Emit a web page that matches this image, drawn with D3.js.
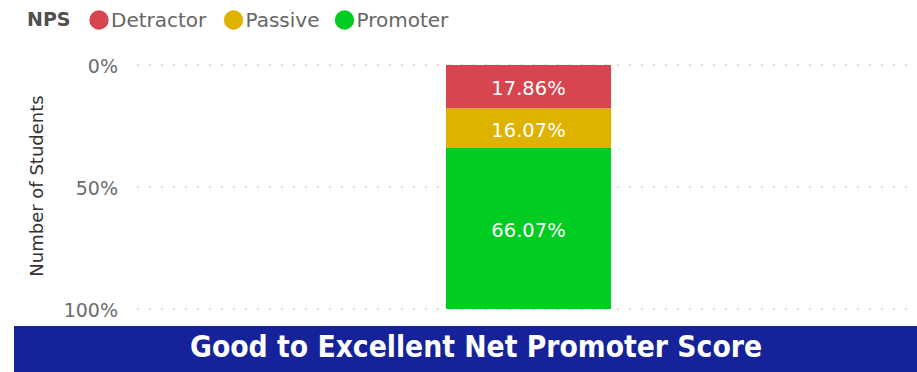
<!DOCTYPE html>
<html>
<head>
<meta charset="utf-8">
<script src="https://cdn.jsdelivr.net/npm/d3@7"></script>
<style>
  html, body { margin: 0; padding: 0; background: #fff; }
  svg { display: block; }
</style>
</head>
<body>
<svg id="chart" width="917" height="372"></svg>
<script>
// NPS breakdown for a single group (shares of students)
const categories = ["Detractor", "Passive", "Promoter"];
const shares = [0.1786, 0.1607, 0.6607];
const colors = ["#D7454F", "#DDB300", "#00CC22"];
const groups = ["All Students"];
const tickValues = [0, 0.5, 1];
const title = "Good to Excellent Net Promoter Score";

const FONT = "'DejaVu Sans', 'Open Sans', sans-serif";
const svg = d3.select("#chart");
const W = 917, H = 372;

const y = d3.scaleLinear().domain([0, 1]).range([65, 309]);
// band for the single group, placing the bar at 446..611
const x = d3.scaleBand().domain(groups).range([446, 611]).padding(0);

// dotted gridlines
svg.append("g")
  .selectAll("line")
  .data(tickValues)
  .join("line")
  .attr("x1", 137).attr("x2", W)
  .attr("y1", d => y(d)).attr("y2", d => y(d))
  .attr("stroke", "#c4c4c4")
  .attr("stroke-width", 1.6)
  .attr("stroke-dasharray", "1.6,10.4");

// y axis
const yAxis = d3.axisLeft(y).tickValues(tickValues).tickFormat(d3.format(".0%")).tickSize(0).tickPadding(0);
const ga = svg.append("g").attr("transform", "translate(118,1)").call(yAxis);
ga.select(".domain").remove();
ga.selectAll("text")
  .attr("font-family", FONT)
  .attr("font-size", 19)
  .attr("fill", "#6b6b72")
  .attr("dy", "0.35em");

// axis title
svg.append("text")
  .attr("transform", "translate(43,186) rotate(-90)")
  .attr("text-anchor", "middle")
  .attr("font-family", FONT)
  .attr("font-size", 18)
  .attr("fill", "#333")
  .text("Number of Students");

// stacked bar
const stacked = [];
let acc = 0;
categories.forEach((c, i) => {
  stacked.push({ cat: c, y0: acc, y1: acc + shares[i], v: shares[i], color: colors[i] });
  acc += shares[i];
});

const gBar = svg.append("g");
gBar.selectAll("rect")
  .data(stacked)
  .join("rect")
  .attr("x", x(groups[0]))
  .attr("width", x.bandwidth())
  .attr("y", d => y(d.y0))
  .attr("height", d => y(d.y1) - y(d.y0))
  .attr("fill", d => d.color);

gBar.selectAll("text")
  .data(stacked)
  .join("text")
  .attr("x", x(groups[0]) + x.bandwidth() / 2)
  .attr("y", d => (y(d.y0) + y(d.y1)) / 2 + 1.5)
  .attr("dy", "0.35em")
  .attr("text-anchor", "middle")
  .attr("font-family", FONT)
  .attr("font-size", 19.5)
  .attr("fill", "#fff")
  .text(d => d3.format(".2%")(d.v));

// legend
const lg = svg.append("g").attr("font-family", FONT);
lg.append("text")
  .attr("x", 27).attr("y", 19.5).attr("dy", "0.35em")
  .attr("font-size", 19).attr("font-weight", "bold").attr("fill", "#505050")
  .text("NPS");
const legendX = [99, 233.5, 344.5];
categories.forEach((c, i) => {
  lg.append("circle").attr("cx", legendX[i]).attr("cy", 20).attr("r", 9.7).attr("fill", colors[i]);
  lg.append("text")
    .attr("x", legendX[i] + 12).attr("y", 19.5).attr("dy", "0.35em")
    .attr("font-size", 20).attr("fill", "#666")
    .text(c);
});

// title banner
svg.append("rect").attr("x", 14).attr("y", 326).attr("width", W - 14).attr("height", H - 326).attr("fill", "#15229A");
svg.append("text")
  .attr("x", 476).attr("y", 357)
  .attr("text-anchor", "middle")
  .attr("font-family", FONT)
  .attr("font-weight", "bold")
  .attr("font-size", 29.5)
  .attr("textLength", 572)
  .attr("lengthAdjust", "spacingAndGlyphs")
  .attr("fill", "#fff")
  .text(title);
</script>
</body>
</html>
